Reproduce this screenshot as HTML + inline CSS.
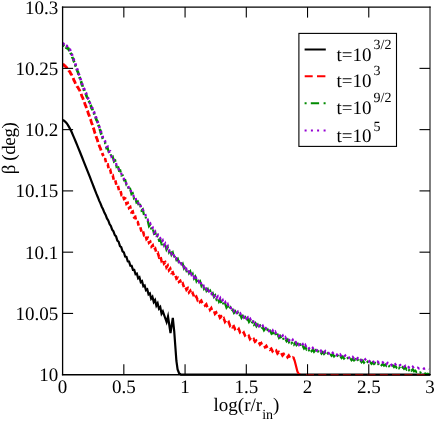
<!DOCTYPE html>
<html><head><meta charset="utf-8"><title>plot</title>
<style>
html,body{margin:0;padding:0;background:#fff;}
body{width:436px;height:421px;overflow:hidden;}
svg{display:block;will-change:transform;}
text{text-rendering:geometricPrecision;}
text{font-family:"Liberation Serif",serif;font-size:19px;fill:#000;}
.sup{font-size:14px;}
.ax line{stroke:#000;stroke-width:1.1;}
.d{fill:none;stroke-linejoin:miter;stroke-miterlimit:6;}
</style></head><body>
<svg width="436" height="421" viewBox="0 0 436 421">
<rect x="0" y="0" width="436" height="421" fill="#fff"/>
<g class="d">
<path d="M62.75,120.00 L64.05,120.76 L65.35,121.86 L66.65,123.24 L67.95,125.14 L69.25,127.38 L70.55,129.80 L71.85,132.57 L73.15,135.59 L74.45,138.70 L75.75,141.77 L77.05,144.88 L78.35,148.05 L79.65,151.26 L80.95,154.50 L82.25,157.77 L83.55,161.05 L84.85,164.33 L86.15,167.61 L87.45,170.87 L88.75,174.15 L90.05,177.46 L91.35,180.80 L92.65,184.14 L93.95,187.48 L95.25,190.79 L96.55,194.13 L97.85,197.21 L99.15,200.61 L100.45,203.39 L101.75,206.75 L103.05,209.24 L104.35,212.54 L105.65,214.90 L106.95,218.40 L108.25,220.46 L109.55,224.00 L110.85,225.97 L112.15,229.69 L113.45,231.32 L114.75,235.02 L116.05,236.41 L117.35,240.57 L118.65,241.75 L119.95,246.12 L121.25,247.08 L122.55,251.29 L123.85,252.30 L125.15,256.63 L126.45,256.98 L127.75,261.37 L129.05,261.56 L130.35,265.63 L131.65,265.79 L132.95,269.92 L134.25,269.85 L135.55,274.23 L136.85,273.53 L138.15,278.33 L139.45,277.23 L140.75,282.14 L142.05,281.14 L143.35,286.33 L144.65,285.49 L145.95,290.29 L147.25,289.39 L148.55,294.32 L149.85,293.36 L151.15,298.72 L152.45,296.92 L153.75,302.11 L155.05,300.12 L156.35,305.61 L157.65,303.23 L158.95,308.66 L160.25,307.04 L161.55,313.59 L162.85,311.37 L165.00,317.50 L166.60,322.00 L168.00,316.50 L170.50,333.00 L172.80,317.80 L174.20,331.00 L175.30,346.00 L176.40,361.00 L177.60,369.50 L179.00,373.00 L181.00,374.60 L430.00,374.70" stroke="#000" stroke-width="2.2"/>
<path d="M62.75,64.53 L63.55,64.58 L64.35,65.78 L65.15,65.88 L65.95,67.21 L66.75,67.51 L67.55,69.08 L68.35,69.47 L69.15,71.13 L69.95,71.85 L70.75,73.74 L71.55,74.74 L72.35,76.81 L73.15,77.94 L73.95,80.35 L74.75,81.66 L75.55,83.95 L76.35,84.90 L77.15,86.62 L77.95,87.33 L78.75,89.07 L79.55,90.06 L80.35,92.49 L81.15,93.84 L81.95,96.40 L82.75,97.80 L83.55,100.43 L84.35,101.98 L85.15,104.73 L85.95,106.35 L86.75,109.11 L87.55,110.75 L88.35,113.66 L89.15,115.36 L89.95,118.20 L90.75,119.94 L91.55,122.83 L92.35,124.60 L93.15,127.59 L93.95,129.55 L94.75,132.60 L95.55,134.52 L96.35,137.45 L97.15,139.22 L97.95,142.15 L98.75,143.82 L99.55,146.56 L100.35,148.17 L101.15,150.71 L101.95,152.22 L102.75,154.69 L103.55,156.04" stroke="#f00" stroke-width="2.8" stroke-dasharray="6.3 2.7"/>
<path d="M104.00,158.91 L105.25,159.12 L106.50,164.53 L107.75,164.38 L109.00,170.21 L110.25,169.81 L111.50,175.59 L112.75,175.35 L114.00,180.96 L115.25,180.16 L116.50,185.57 L117.75,185.10 L119.00,190.41 L120.25,189.68 L121.50,194.95 L122.75,194.39 L124.00,199.07 L125.25,198.53 L126.50,203.84 L127.75,203.02 L129.00,207.97 L130.25,206.97 L131.50,212.23 L132.75,211.48 L134.00,217.16 L135.25,216.73 L136.50,221.97 L137.75,222.03 L139.00,226.77 L140.25,226.73 L141.50,231.72 L142.75,230.40 L144.00,235.11 L145.25,234.38 L146.50,239.07 L147.75,238.02 L149.00,242.77 L150.25,241.77 L151.50,246.53 L152.75,245.24 L154.00,249.91 L155.25,248.74 L156.50,253.21 L157.75,252.73 L159.00,256.94 L160.25,255.77 L161.50,260.70 L162.75,259.22 L164.00,263.57 L165.25,262.39 L166.50,267.26 L167.75,265.61 L169.00,270.16 L170.25,268.68 L171.50,272.85 L172.75,272.27 L174.00,275.76 L175.25,275.04 L176.50,278.76 L177.75,277.93 L179.00,281.78 L180.25,280.83 L181.50,284.57 L182.75,283.52 L184.00,287.32 L185.25,286.30 L186.50,289.69 L187.75,288.32 L189.00,292.29 L190.25,290.85 L191.50,294.65 L192.75,293.26 L194.00,296.53" stroke="#f00" stroke-width="2.6" stroke-dasharray="4.5 3"/>
<path d="M195.00,297.58 L196.25,296.56 L197.50,299.75 L198.75,298.08 L200.00,301.80 L201.25,300.61 L202.50,303.54 L203.75,302.49 L205.00,305.44 L206.25,304.34 L207.50,307.82 L208.75,306.51 L210.00,309.85 L211.25,308.23 L212.50,311.42 L213.75,310.23 L215.00,313.84 L216.25,312.55 L217.50,315.69 L218.75,314.33 L220.00,317.76 L221.25,316.68 L222.50,319.81 L223.75,318.40 L225.00,321.88 L226.25,320.28 L227.50,323.50 L228.75,322.22 L230.00,325.61 L231.25,323.94 L232.50,326.99 L233.75,326.16 L235.00,328.98 L236.25,327.79 L237.50,330.64 L238.75,329.11 L240.00,332.24 L241.25,331.18 L242.50,333.98 L243.75,332.66 L245.00,335.47 L246.25,334.47 L247.50,337.09 L248.75,335.93 L250.00,339.02 L251.25,337.65 L252.50,340.33 L253.75,339.10 L255.00,341.76 L256.25,340.75 L257.50,343.26 L258.75,342.09 L260.00,344.53 L261.25,343.33 L262.50,346.09 L263.75,344.87 L265.00,347.13 L266.25,345.92 L267.50,348.39 L268.75,347.45 L270.00,349.59 L271.25,348.67 L272.50,351.13 L273.75,349.76 L275.00,352.06 L276.25,350.71 L277.50,353.43 L278.75,352.23 L280.00,354.49 L281.25,353.05 L282.50,355.48 L283.75,354.14 L285.00,356.17 L286.25,354.93 L287.50,357.14 L288.75,355.57 L290.00,357.68 L291.25,356.34 L292.50,357.91 L293.75,356.73" stroke="#f00" stroke-width="2.6" stroke-dasharray="5.5 4.5"/>
<path d="M293.20,357.00 L294.60,360.50 L295.90,365.50 L297.40,371.50 L298.60,373.80 L300.20,374.70" stroke="#f00" stroke-width="2.2" stroke-linejoin="round"/>
<path d="M62.75,46.05 L63.55,45.35 L64.35,46.30 L65.15,45.95 L65.95,47.33 L66.75,47.02 L67.55,48.53 L68.35,48.62 L69.15,50.32 L69.95,50.79 L70.75,53.37 L71.55,54.38 L72.35,57.44 L73.15,58.55 L73.95,61.49 L74.75,62.79 L75.55,65.84 L76.35,67.40 L77.15,70.56 L77.95,72.05 L78.75,75.32 L79.55,76.85 L80.35,80.06 L81.15,81.77 L81.95,84.88 L82.75,86.39 L83.55,89.35 L84.35,90.47 L85.15,93.08 L85.95,94.04 L86.75,96.74 L87.55,97.79 L88.35,100.63 L89.15,101.67 L89.95,104.28 L90.75,105.41 L91.55,108.27 L92.35,109.37 L93.15,112.06 L93.95,113.06 L94.75,115.92 L95.55,117.06 L96.35,119.71 L97.15,121.00 L97.95,124.06 L98.75,125.76 L99.55,128.93 L100.35,130.57 L101.15,133.85 L101.95,135.44 L102.75,138.55 L103.55,139.89" stroke="#008b00" stroke-width="2.7" stroke-dasharray="2 2.5 6 2.5"/>
<path d="M104.00,143.10 L105.25,143.06 L106.50,148.39 L107.75,148.20 L109.00,153.08 L110.25,152.56 L111.50,157.79 L112.75,156.74 L114.00,161.54 L115.25,160.61 L116.50,166.53 L117.75,165.18 L119.00,170.71 L120.25,170.35 L121.50,175.52 L122.75,175.41 L124.00,180.24 L125.25,179.96 L126.50,185.11 L127.75,184.94 L129.00,190.31 L130.25,189.23 L131.50,194.18 L132.75,193.37 L134.00,198.43 L135.25,197.60 L136.50,202.53 L137.75,201.67 L139.00,206.76 L140.25,205.46 L141.50,210.35 L142.75,209.23 L144.00,215.11 L145.25,214.96 L146.50,220.61 L147.75,220.80 L149.00,226.19 L150.25,224.60 L151.50,229.82 L152.75,228.56 L154.00,233.59 L155.25,232.54 L156.50,237.30 L157.75,235.60 L159.00,240.23 L160.25,239.28 L161.50,243.79 L162.75,242.47 L164.00,246.39 L165.25,244.94 L166.50,249.58 L167.75,247.37 L169.00,252.17 L170.25,249.99 L171.50,254.73 L172.75,252.63 L174.00,257.46 L175.25,255.50 L176.50,259.97 L177.75,258.74 L179.00,263.12 L180.25,261.53 L181.50,266.01 L182.75,263.94 L184.00,268.27 L185.25,266.35 L186.50,270.76 L187.75,269.25 L189.00,273.25 L190.25,271.42 L191.50,276.11 L192.75,274.04 L194.00,278.35 L195.25,276.51 L196.50,281.16 L197.75,279.11 L199.00,283.87 L200.25,281.81 L201.50,285.98 L202.75,284.13 L204.00,288.65 L205.25,286.77 L206.50,290.85 L207.75,289.19 L209.00,293.02 L210.25,291.06 L211.50,294.88 L212.75,293.31 L214.00,297.01 L215.25,295.32 L216.50,299.43 L217.75,297.82 L219.00,301.67 L220.25,299.82 L221.50,303.69 L222.75,302.14 L224.00,305.54 L225.25,303.80 L226.50,307.68 L227.75,306.05 L229.00,309.24 L230.25,307.55 L231.50,311.14 L232.75,309.75 L234.00,312.96 L235.25,311.45 L236.50,314.42 L237.75,312.78 L239.00,316.04 L240.25,314.68 L241.50,317.84 L242.75,316.04 L244.00,319.10 L245.25,317.38 L246.50,320.40 L247.75,318.83 L249.00,321.99 L250.25,320.18 L251.50,323.35 L252.75,321.78 L254.00,324.76 L255.25,323.24 L256.50,326.31 L257.75,324.70 L259.00,327.53 L260.25,325.89 L261.50,328.87 L262.75,327.45 L264.00,330.30 L265.25,328.70 L266.50,331.55 L267.75,329.73 L269.00,332.58 L270.25,331.00 L271.50,333.60 L272.75,332.41 L274.00,335.32 L275.25,333.58 L276.50,336.47 L277.75,334.84 L279.00,337.83 L280.25,336.18 L281.50,338.94 L282.75,337.66 L284.00,340.05 L285.25,338.80 L286.50,341.21 L287.75,339.55 L289.00,342.19 L290.25,340.85 L291.50,343.18 L292.75,341.78 L294.00,344.43 L295.25,342.60 L296.50,345.15 L297.75,343.88 L299.00,346.43 L300.25,344.80 L301.50,347.41 L302.75,346.08 L304.00,348.55 L305.25,347.02 L306.50,349.36 L307.75,348.08 L309.00,350.20 L310.25,348.70 L311.50,351.12 L312.75,349.62 L314.00,351.76 L315.25,350.31 L316.50,352.22 L317.75,350.90 L319.00,352.75 L320.25,351.60 L321.50,353.56 L322.75,352.02 L324.00,353.92 L325.25,352.66 L326.50,354.84 L327.75,353.39 L329.00,355.13 L330.25,353.89 L331.50,355.80 L332.75,354.50 L334.00,356.43 L335.25,355.09 L336.50,356.96 L337.75,355.73 L339.00,357.64 L340.25,356.24 L341.50,358.05 L342.75,356.66 L344.00,358.60 L345.25,357.45 L346.50,359.06 L347.75,358.01 L349.00,359.58 L350.25,358.20 L351.50,360.16 L352.75,358.88 L354.00,360.44 L355.25,359.33 L356.50,361.21 L357.75,359.78 L359.00,361.79 L360.25,360.24 L361.50,362.16 L362.75,360.70 L364.00,362.67 L365.25,361.33 L366.50,362.91 L367.75,361.73 L369.00,363.41 L370.25,362.25 L371.50,363.78 L372.75,362.46 L374.00,364.05 L375.25,363.03 L376.50,364.44 L377.75,363.36 L379.00,365.09 L380.25,363.81 L381.50,365.15 L382.75,364.10 L384.00,365.59 L385.25,364.50 L386.50,365.93 L387.75,364.79 L389.00,366.23 L390.25,364.92 L391.50,366.57 L392.75,365.35 L394.00,367.03 L395.25,365.80 L396.50,367.58 L397.75,366.29 L399.00,368.04 L400.25,366.42 L401.50,368.39 L402.75,367.19 L404.00,368.87 L405.25,367.45 L406.50,369.44 L407.75,368.12 L409.00,370.10 L410.25,368.41 L411.50,370.44 L412.75,369.30 L414.00,371.30 L415.25,370.68 L416.50,371.92 L417.75,371.59 L419.00,372.74 L420.25,372.40 L421.50,373.37 L422.75,372.95 L424.00,373.92 L425.25,373.41 L426.50,374.24 L427.75,373.80 L429.00,374.50" stroke="#008b00" stroke-width="2.2" stroke-dasharray="2 3 8 3"/>
<path d="M62.75,44.84 L63.55,44.05 L64.35,45.13 L65.15,44.68 L65.95,46.13 L66.75,45.94 L67.55,47.32 L68.35,47.43 L69.15,49.00 L69.95,49.65 L70.75,52.12 L71.55,53.19 L72.35,56.10 L73.15,57.34 L73.95,60.27 L74.75,61.49 L75.55,64.59 L76.35,66.23 L77.15,69.36 L77.95,70.95 L78.75,74.00 L79.55,75.58 L80.35,78.92 L81.15,80.62 L81.95,83.73 L82.75,85.18 L83.55,88.10 L84.35,89.21 L85.15,91.79 L85.95,92.82 L86.75,95.49 L87.55,96.65 L88.35,99.25 L89.15,100.44 L89.95,103.22 L90.75,104.34 L91.55,106.93 L92.35,108.04 L93.15,110.84 L93.95,111.96 L94.75,114.67 L95.55,115.80 L96.35,118.67 L97.15,119.94 L97.95,122.99 L98.75,124.47 L99.55,127.76 L100.35,129.38 L101.15,132.64 L101.95,134.14 L102.75,137.25 L103.55,138.73" stroke="#9400d3" stroke-width="2.7" stroke-dasharray="2.2 3"/>
<path d="M104.00,142.05 L105.25,141.37 L106.50,146.99 L107.75,146.47 L109.00,151.85 L110.25,151.24 L111.50,156.70 L112.75,155.55 L114.00,160.51 L115.25,159.93 L116.50,164.71 L117.75,164.51 L119.00,169.53 L120.25,169.32 L121.50,174.20 L122.75,173.95 L124.00,179.18 L125.25,178.58 L126.50,184.51 L127.75,183.67 L129.00,188.89 L130.25,188.02 L131.50,192.90 L132.75,192.58 L134.00,197.70 L135.25,196.44 L136.50,201.72 L137.75,200.81 L139.00,205.53 L140.25,204.01 L141.50,209.51 L142.75,208.63 L144.00,213.64 L145.25,213.62 L146.50,219.89 L147.75,219.63 L149.00,224.44 L150.25,223.50 L151.50,228.79 L152.75,227.74 L154.00,232.95 L155.25,231.46 L156.50,235.72 L157.75,234.77 L159.00,239.08 L160.25,238.21 L161.50,242.52 L162.75,240.54 L164.00,245.39 L165.25,243.54 L166.50,247.89 L167.75,246.24 L169.00,250.83 L170.25,248.84 L171.50,253.51 L172.75,251.57 L174.00,255.80 L175.25,254.32 L176.50,258.81 L177.75,257.43 L179.00,261.70 L180.25,259.71 L181.50,264.09 L182.75,262.65 L184.00,267.24 L185.25,265.42 L186.50,269.50 L187.75,268.01 L189.00,272.24 L190.25,270.28 L191.50,274.72 L192.75,273.19 L194.00,277.38 L195.25,275.04 L196.50,279.32 L197.75,278.02 L199.00,281.89 L200.25,280.10 L201.50,284.94 L202.75,283.20 L204.00,286.86 L205.25,285.46 L206.50,289.27 L207.75,287.25 L209.00,291.24 L210.25,290.05 L211.50,293.73 L212.75,292.01 L214.00,296.06 L215.25,294.23 L216.50,297.74 L217.75,296.39 L219.00,300.36 L220.25,298.19 L221.50,301.79 L222.75,300.17 L224.00,303.87 L225.25,302.16 L226.50,305.58 L227.75,304.01 L229.00,307.53 L230.25,306.14 L231.50,309.68 L232.75,307.95 L234.00,311.15 L235.25,309.97 L236.50,312.93 L237.75,311.73 L239.00,314.49 L240.25,313.31 L241.50,316.11 L242.75,314.67 L244.00,317.54 L245.25,316.09 L246.50,318.57 L247.75,317.40 L249.00,320.36 L250.25,318.82 L251.50,321.60 L252.75,319.97 L254.00,323.06 L255.25,321.35 L256.50,324.77 L257.75,323.11 L259.00,326.04 L260.25,324.53 L261.50,327.02 L262.75,325.74 L264.00,328.53 L265.25,326.75 L266.50,329.51 L267.75,328.10 L269.00,330.91 L270.25,329.63 L271.50,332.41 L272.75,330.56 L274.00,333.23 L275.25,331.71 L276.50,334.51 L277.75,333.44 L279.00,335.92 L280.25,334.28 L281.50,337.01 L282.75,335.55 L284.00,338.48 L285.25,337.17 L286.50,339.53 L287.75,338.07 L289.00,340.53 L290.25,338.95 L291.50,341.56 L292.75,339.81 L294.00,342.27 L295.25,340.86 L296.50,343.37 L297.75,341.84 L299.00,344.64 L300.25,342.76 L301.50,345.40 L302.75,344.09 L304.00,346.79 L305.25,344.91 L306.50,347.50 L307.75,345.93 L309.00,348.39 L310.25,347.10 L311.50,349.29 L312.75,347.82 L314.00,349.82 L315.25,348.54 L316.50,350.44 L317.75,349.27 L319.00,350.89 L320.25,349.62 L321.50,351.70 L322.75,350.26 L324.00,352.43 L325.25,351.07 L326.50,352.80 L327.75,351.66 L329.00,353.43 L330.25,352.06 L331.50,354.05 L332.75,352.83 L334.00,354.74 L335.25,353.47 L336.50,355.10 L337.75,353.84 L339.00,355.93 L340.25,354.58 L341.50,356.43 L342.75,355.23 L344.00,356.85 L345.25,355.54 L346.50,357.26 L347.75,356.10 L349.00,357.85 L350.25,356.47 L351.50,358.15 L352.75,356.88 L354.00,358.62 L355.25,357.28 L356.50,359.18 L357.75,358.08 L359.00,359.70 L360.25,358.30 L361.50,360.23 L362.75,358.96 L364.00,360.97 L365.25,359.30 L366.50,361.03 L367.75,359.90 L369.00,361.65 L370.25,360.24 L371.50,361.95 L372.75,360.78 L374.00,362.20 L375.25,361.27 L376.50,362.78 L377.75,361.63 L379.00,363.01 L380.25,361.90 L381.50,363.31 L382.75,362.35 L384.00,363.96 L385.25,362.54 L386.50,364.04 L387.75,362.79 L389.00,364.33 L390.25,363.32 L391.50,365.07 L392.75,363.46 L394.00,365.36 L395.25,364.17 L396.50,365.66 L397.75,364.61 L399.00,366.03 L400.25,365.01 L401.50,366.38 L402.75,365.17 L404.00,366.74 L405.25,365.73 L406.50,367.42 L407.75,366.04 L409.00,367.57 L410.25,366.50 L411.50,368.07 L412.75,366.63 L414.00,368.26 L415.25,367.34 L416.50,368.06 L417.75,367.65 L419.00,368.39 L420.25,367.78 L421.50,368.65 L422.75,368.04 L424.00,368.81 L425.25,368.34 L426.50,369.05 L427.75,368.50 L429.00,369.08" stroke="#9400d3" stroke-width="2.2" stroke-dasharray="2.5 4"/>
</g>
<g stroke="#000" stroke-linecap="square"><line x1="62.6" y1="7.1" x2="62.6" y2="374.7" stroke-width="1.3"/><line x1="62.6" y1="374.7" x2="430.0" y2="374.7" stroke-width="1.4"/><line x1="62.6" y1="7.1" x2="430.0" y2="7.1" stroke-width="1.4"/><line x1="430.0" y1="7.1" x2="430.0" y2="374.7" stroke-width="1.0"/></g>
<path class="d" d="M306,374.7 L429,374.7" stroke="#800000" stroke-width="1.3" stroke-dasharray="8 4.3"/>
<g class="ax">
<line x1="123.83" y1="374.7" x2="123.83" y2="364.2"/>
<line x1="123.83" y1="7.1" x2="123.83" y2="17.6"/>
<line x1="185.07" y1="374.7" x2="185.07" y2="364.2"/>
<line x1="185.07" y1="7.1" x2="185.07" y2="17.6"/>
<line x1="246.30" y1="374.7" x2="246.30" y2="364.2"/>
<line x1="246.30" y1="7.1" x2="246.30" y2="17.6"/>
<line x1="307.53" y1="374.7" x2="307.53" y2="364.2"/>
<line x1="307.53" y1="7.1" x2="307.53" y2="17.6"/>
<line x1="368.77" y1="374.7" x2="368.77" y2="364.2"/>
<line x1="368.77" y1="7.1" x2="368.77" y2="17.6"/>
<line x1="62.6" y1="313.43" x2="73.1" y2="313.43"/>
<line x1="430.0" y1="313.43" x2="419.5" y2="313.43"/>
<line x1="62.6" y1="252.17" x2="73.1" y2="252.17"/>
<line x1="430.0" y1="252.17" x2="419.5" y2="252.17"/>
<line x1="62.6" y1="190.90" x2="73.1" y2="190.90"/>
<line x1="430.0" y1="190.90" x2="419.5" y2="190.90"/>
<line x1="62.6" y1="129.63" x2="73.1" y2="129.63"/>
<line x1="430.0" y1="129.63" x2="419.5" y2="129.63"/>
<line x1="62.6" y1="68.37" x2="73.1" y2="68.37"/>
<line x1="430.0" y1="68.37" x2="419.5" y2="68.37"/>
</g>
<g>
<text x="62.60" y="393.4" text-anchor="middle">0</text>
<text x="123.83" y="393.4" text-anchor="middle">0.5</text>
<text x="185.07" y="393.4" text-anchor="middle">1</text>
<text x="246.30" y="393.4" text-anchor="middle">1.5</text>
<text x="307.53" y="393.4" text-anchor="middle">2</text>
<text x="368.77" y="393.4" text-anchor="middle">2.5</text>
<text x="430.00" y="393.4" text-anchor="middle">3</text>
<text x="58.2" y="381.10" text-anchor="end">10</text>
<text x="58.2" y="319.83" text-anchor="end">10.05</text>
<text x="58.2" y="258.57" text-anchor="end">10.1</text>
<text x="58.2" y="197.30" text-anchor="end">10.15</text>
<text x="58.2" y="136.03" text-anchor="end">10.2</text>
<text x="58.2" y="74.77" text-anchor="end">10.25</text>
<text x="58.2" y="13.50" text-anchor="end">10.3</text>
</g>
<text transform="translate(14.5,174.3) rotate(-90)" x="0" y="0" letter-spacing="-0.4">β (deg)</text>
<text x="213.6" y="411.3">log(r/r<tspan class="sup" dy="7.3">in</tspan><tspan dy="-7.3">)</tspan></text>
<rect x="298.9" y="33.4" width="97.6" height="113" fill="#fff" stroke="#000" stroke-width="1.1"/>
<g>
<text x="336.6" y="60.6">t=10<tspan class="sup" dx="1.9" dy="-12.1">3/2</tspan></text>
<text x="336.6" y="86.6">t=10<tspan class="sup" dx="1.9" dy="-11.6">3</tspan></text>
<text x="336.6" y="114.2">t=10<tspan class="sup" dx="1.9" dy="-11.9">9/2</tspan></text>
<text x="336.6" y="141.7">t=10<tspan class="sup" dx="1.9" dy="-10.9">5</tspan></text>
</g>
<g class="d">
<path d="M304.6,49.5 L325.8,49.5" stroke="#000" stroke-width="2"/>
<path d="M304.7,76.2 L312.7,76.2 M317,76.2 L325.4,76.2" stroke="#f00" stroke-width="2"/>
<path d="M304.6,103.2 h2 M310.8,103.2 H319.1 M323.6,103.2 h2" stroke="#008b00" stroke-width="2"/>
<path d="M304.6,130.6 h2 M310.9,130.6 h2 M317.1,130.6 h2 M323.6,130.6 h2" stroke="#9400d3" stroke-width="2"/>
</g>
</svg>
</body></html>
